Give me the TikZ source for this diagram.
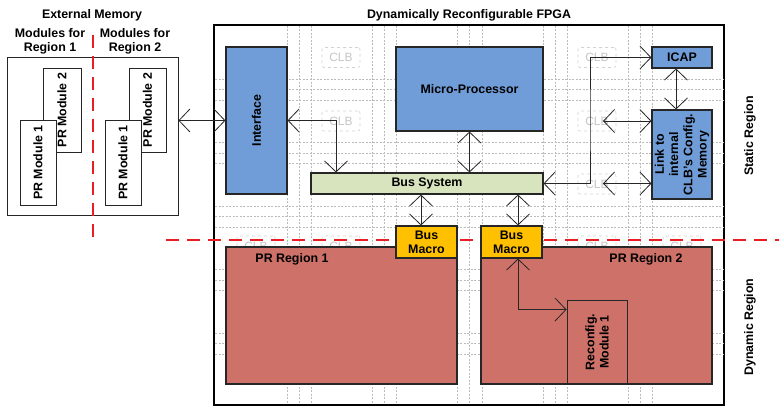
\documentclass[tikz,border=0pt]{standalone}
\usepackage{fontspec}
\setmainfont{Liberation Sans}
\usetikzlibrary{arrows.meta}
\definecolor{bluef}{RGB}{112,157,216}
\definecolor{greenf}{RGB}{215,228,189}
\definecolor{orangef}{RGB}{255,192,0}
\definecolor{redf}{RGB}{205,113,105}
\definecolor{redl}{RGB}{232,30,36}
\definecolor{gridc}{RGB}{188,188,188}
\begin{document}
\begin{tikzpicture}[x=1pt,y=-1pt,
  font=\fontsize{12.4}{14.2}\selectfont\bfseries,
  box/.style={draw=black!85,line width=1.1pt,inner sep=0pt,align=center},
  wbox/.style={draw=black!85,line width=0.8pt,fill=white,inner sep=0pt,align=center},
  gridl/.style={draw=gridc,line width=0.5pt,dash pattern=on 2pt off 1.5pt},
  clb/.style={draw=gray!35,line width=0.6pt,dashed,rounded corners=2pt,fill=white,
    minimum width=38pt,minimum height=20pt,inner sep=0pt,text=gray!45,
    font=\fontsize{12}{12}\selectfont\mdseries},
  conn/.style={draw=black!85,line width=0.8pt,
    {Straight Barb[length=11pt,width=23pt]}-{Straight Barb[length=11pt,width=23pt]}},
  reddash/.style={draw=redl,line width=1.8pt,dash pattern=on 13pt off 8pt},
  lbl/.style={inner sep=0pt,align=center}]
\useasboundingbox (0,0) rectangle (779,409);
% titles
\node[lbl] (tExt) at (92,15) {External Memory};
\node[lbl] (tR1) at (50,41) {Modules for\\Region 1};
\node[lbl] (tR2) at (135,41) {Modules for\\Region 2};
\node[lbl] (tFpga) at (469,15) {Dynamically Reconfigurable FPGA};
% external memory
\node[wbox,minimum width=171pt,minimum height=158pt] (ext) at (92.5,136) {};
\node[wbox,rotate=90,minimum width=84pt,minimum height=38pt] (lm2) at (62,110) {PR Module 2};
\node[wbox,rotate=90,minimum width=85pt,minimum height=36pt] (lm1) at (38,162.5) {PR Module 1};
\node[wbox,rotate=90,minimum width=84pt,minimum height=37pt] (rm2) at (147.5,110) {PR Module 2};
\node[wbox,rotate=90,minimum width=85pt,minimum height=36pt] (rm1) at (123,162.5) {PR Module 1};
% FPGA frame
\node[draw=black,line width=2pt,fill=white,minimum width=510pt,minimum height=380pt,inner sep=0pt] (fpga) at (469,215) {};
% grid
\foreach \x in {287,299,311,372,384,396,457,469,482,543,555,567,628,640,652}
  \draw[gridl] (\x,26) -- (\x,404);
\foreach \y in {79,89.5,100,142.5,153,163.5,206,216.5,227,269.5,280,290.5,333,343.5,354}
  \draw[gridl] (215,\y) -- (723,\y);
\foreach \x/\y [count=\i] in {341/57.5,597/57.5,341/121,597/121,597/184,256/246,341/246,597/246,682/246}
  \node[clb] (clb\i) at (\x,\y) {CLB};
% static blocks
\node[box,fill=bluef,rotate=90,minimum width=147pt,minimum height=61pt] (iface) at (256.5,120.5) {Interface};
\node[box,fill=bluef,minimum width=147pt,minimum height=84pt] (micro) at (469.5,89) {Micro-Processor};
\node[box,fill=greenf,minimum width=232pt,minimum height=21pt] (bus) at (427,183.5) {Bus System};
\node[box,fill=bluef,minimum width=60pt,minimum height=21pt] (icap) at (682,57.5) {ICAP};
\node[box,fill=bluef,rotate=90,minimum width=89pt,minimum height=60pt] (link) at (682,154.5) {Link to\\internal\\CLB's Config.\\Memory};
% dynamic regions
\node[box,fill=redf,minimum width=231pt,minimum height=137pt] (pr1) at (341.5,315.5) {};
\node[box,fill=redf,minimum width=231pt,minimum height=137pt] (pr2) at (596.5,315.5) {};
\node[lbl] (tpr1) at (292,259.5) {PR Region 1};
\node[lbl] (tpr2) at (646,259.5) {PR Region 2};
\node[box,line width=0.9pt,rotate=90,minimum width=84pt,minimum height=60pt] (reconf) at (597,342) {Reconfig.\\Module 1};
% red dashed separators
\coordinate (rv1) at (93,35);
\coordinate (rv2) at (93,240);
\coordinate (rh1) at (166,240);
\coordinate (rh2) at (779,240);
\draw[reddash] (rv1) -- (rv2);
\draw[reddash] (rh1) -- (rh2);
% bus macros
\node[box,fill=orangef,minimum width=61pt,minimum height=32pt] (bm1) at (426.5,242) {Bus\\Macro};
\node[box,fill=orangef,minimum width=61pt,minimum height=32pt] (bm2) at (511.5,242) {Bus\\Macro};
% region labels
\node[lbl,rotate=90] (tstat) at (750,136) {Static Region};
\node[lbl,rotate=90] (tdyn) at (750,327) {Dynamic Region};
% connectors
\coordinate (c2) at (590,120);
\coordinate (c3) at (603,121);
\coordinate (c4) at (603,183.5);
\draw[conn] (iface.north -| ext.east) -- (iface.north);
\draw[conn] (iface.south) -| ([xshift=-91pt]bus.north);
\draw[conn] (micro.south) -- (micro.south |- bus.north);
\draw[conn] ([xshift=-5.5pt]bus.south -| bm1.north) -- ([xshift=-5.5pt]bm1.north);
\draw[conn] ([xshift=6.5pt]bus.south -| bm2.north) -- ([xshift=6.5pt]bm2.north);
\draw[conn] (bus.east) -| (c2) |- (icap.west);
\draw[conn] ([xshift=-6pt]icap.south) -- ([xshift=-6pt]link.east);
\draw[conn] (c3) -- (c3 -| link.north);
\draw[conn] (c4) -- (c4 -| link.north);
\draw[conn] ([xshift=6.5pt]bm2.south) |- ([yshift=-10pt]reconf.north east);
\end{tikzpicture}
\end{document}
